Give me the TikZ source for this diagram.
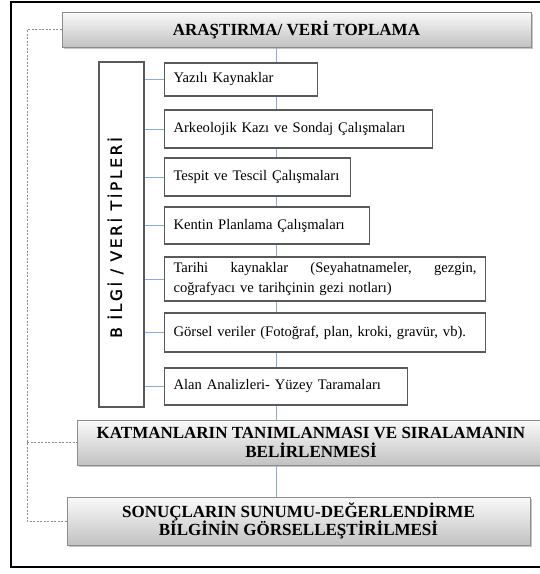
\documentclass[tikz,border=0pt]{standalone}
\usepackage{fontspec}
\setmainfont{Liberation Serif}
\newfontfamily\vsans[LetterSpace=17,FakeBold=1.2]{DejaVu Sans}
\usetikzlibrary{shadows}
\definecolor{conn}{HTML}{8EAADB}
\definecolor{boxline}{HTML}{595959}
\definecolor{hdline}{HTML}{8C8C8C}
\tikzset{
 hdr/.style={draw=hdline, line width=1pt, top color=gray!4, bottom color=gray!48,
   drop shadow={shadow xshift=1.5pt, shadow yshift=-1.8pt, opacity=0.45},
   font=\fontsize{17}{18.5}\selectfont\bfseries, align=center, inner sep=0pt},
 item/.style={draw=boxline, line width=1.1pt, fill=white,
   font=\fontsize{14.6}{19.5}\selectfont, align=left, inner xsep=9pt, inner ysep=0pt, anchor=west},
 cline/.style={draw=conn, line width=1pt},
 dsh/.style={draw=gray!90, line width=1pt, dash pattern=on 2pt off 1.5pt},
}
\begin{document}
\begin{tikzpicture}[x=1pt,y=-1pt]
\useasboundingbox (0,0) rectangle (540,574);
\draw[line width=1.8pt] (11,2) rectangle (548,567);
% header boxes
\node[hdr, minimum width=469pt, minimum height=35pt] (top) at (296.5,29.5) {ARAŞTIRMA/ VERİ TOPLAMA};
\node[hdr, minimum width=468pt, minimum height=45pt] (kat) at (311,442.5) {KATMANLARIN TANIMLANMASI VE SIRALAMANIN\\BELİRLENMESİ};
\node[hdr, minimum width=463pt, minimum height=48pt] (son) at (298.5,521) {SONUÇLARIN SUNUMU-DEĞERLENDİRME\\BİLGİNİN GÖRSELLEŞTİRİLMESİ};
% left box
\node[draw=boxline, line width=1.1pt, fill=white, minimum width=45pt, minimum height=345pt, inner sep=0pt] (lb) at (121.5,234.5) {};
\node[rotate=90, inner sep=0pt] (lbt) at (115.5,237.5) {\vsans\fontsize{15.5}{15.5}\selectfont B İLGİ / VERİ TİPLERİ};
% items
\node[item, text width=135pt, minimum height=33pt] (yaz) at (164,79.5) {Yazılı Kaynaklar};
\node[item, text width=250pt, minimum height=38pt] (ark) at (164,129) {Arkeolojik Kazı ve Sondaj Çalışmaları};
\node[item, text width=168pt, minimum height=38pt] (tes) at (164,177) {Tespit ve Tescil Çalışmaları};
\node[item, text width=187pt, minimum height=37pt] (ken) at (164,225.5) {Kentin Planlama Çalışmaları};
\node[item, text width=303pt, minimum height=44pt] (tar) at (164,279) {Tarihi\hfill kaynaklar\hfill (Seyahatnameler,\hfill gezgin,\\coğrafyacı ve tarihçinin gezi notları)};
\node[item, text width=303pt, minimum height=39pt] (gor) at (164,332.5) {Görsel veriler (Fotoğraf, plan, kroki, gravür, vb).};
\node[item, text width=225pt, minimum height=37pt] (ala) at (164,386.5) {Alan Analizleri- Yüzey Taramaları};
% vertical connectors
\coordinate (cx) at (276,0);
\draw[cline] (top.south -| cx) -- (yaz.north -| cx);
\draw[cline] (yaz.south -| cx) -- (ark.north -| cx);
\draw[cline] (ark.south -| cx) -- (tes.north -| cx);
\draw[cline] (tes.south -| cx) -- (ken.north -| cx);
\draw[cline] (ken.south -| cx) -- (tar.north -| cx);
\draw[cline] (tar.south -| cx) -- (gor.north -| cx);
\draw[cline] (gor.south -| cx) -- (ala.north -| cx);
\draw[cline] (ala.south -| cx) -- (kat.north -| cx);
\draw[cline] (kat.south -| cx) -- (son.north -| cx);
% left connectors
\foreach \n in {yaz,ark,tes,ken,tar,gor,ala}
  \draw[cline] (lb.east |- \n.west) -- (\n.west);
% dashed feedback
\coordinate (dl) at (27,0);
\draw[dsh] (top.west) -- (top.west -| dl) -- (son.west -| dl) -- (son.west);
\draw[dsh] (kat.west -| dl) -- (kat.west);
\end{tikzpicture}
\end{document}
